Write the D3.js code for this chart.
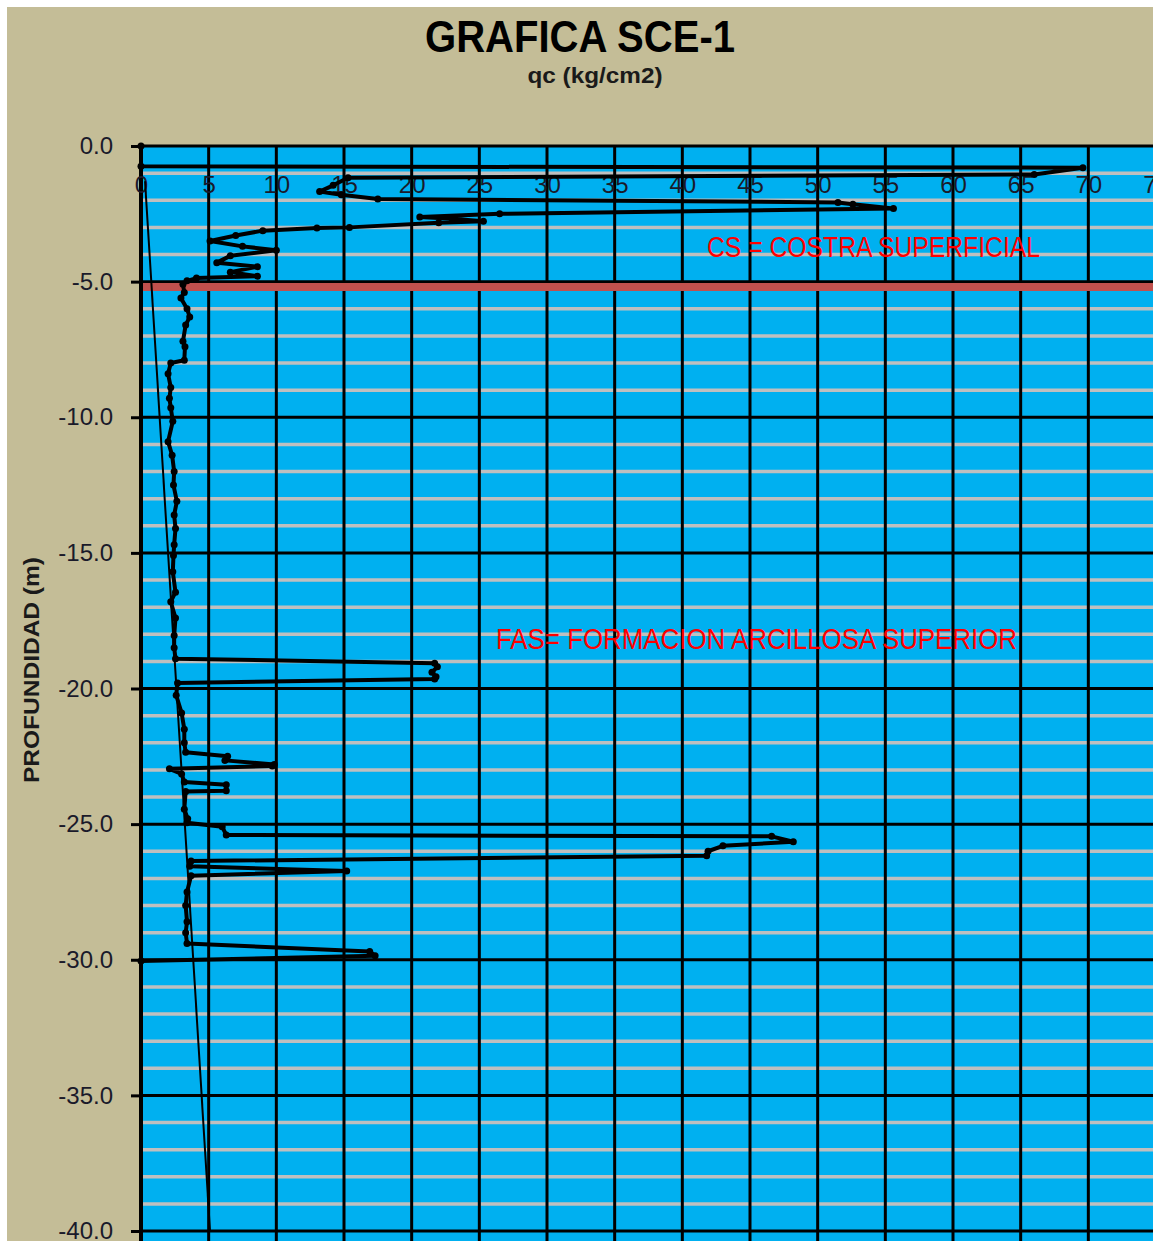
<!DOCTYPE html>
<html>
<head>
<meta charset="utf-8">
<script src="https://cdn.jsdelivr.net/npm/d3@7"></script>
<style>
  body { margin: 0; background: #ffffff; }
  svg { display: block; }
</style>
</head>
<body>
<div id="chart"></div>
<script>
// qc (kg/cm2) read along the sounding, paired with depth (m)
const qc = [
  0, 0, 69.6, 66, 15.3, 14.2, 13.2, 14.8, 17.5, 51.5, 52.6, 55.6, 26.5, 20.6, 23.0, 25.3,
  22.0, 15.4, 13.0, 9.0, 7.0, 5.1, 7.5, 10.0, 6.6, 5.6, 8.6, 6.6, 8.6, 4.1, 3.4,
  3.1, 3.2, 2.95, 3.4, 3.6, 3.3, 3.1, 3.25, 3.2, 2.2, 2.0, 2.2, 2.1, 2.2, 2.35, 2.0,
  2.3, 2.45, 2.4, 2.65, 2.45, 2.55, 2.45, 2.4, 2.35, 2.55, 2.2, 2.55, 2.45, 2.45, 2.55,
  21.7, 21.9, 21.5, 21.8, 21.7, 2.7, 2.6, 3.0, 3.2, 3.2, 3.3, 6.4, 6.2, 9.85, 9.7,
  2.1, 3.0, 3.2, 6.3, 6.3, 3.3, 3.2, 3.45, 3.4, 6.0, 6.3, 46.6, 48.2, 43, 41.9, 41.8,
  3.7, 3.6, 15.2, 3.7, 3.4, 3.3, 3.4, 3.3, 3.4, 16.9, 17.3, 0
];
const depth = [
  0, -0.75, -0.8, -1.05, -1.17, -1.45, -1.68, -1.8, -1.95, -2.08, -2.15, -2.3, -2.5, -2.62, -2.68, -2.77,
  -2.83, -3.0, -3.02, -3.12, -3.3, -3.5, -3.7, -3.84, -4.05, -4.3, -4.45, -4.65, -4.8, -4.87, -4.97,
  -5.1, -5.4, -5.6, -6.0, -6.3, -6.6, -7.2, -7.4, -7.9, -8.0, -8.4, -8.9, -9.3, -9.65, -10.15, -10.9,
  -11.4, -12.0, -12.5, -13.1, -13.6, -14.1, -14.7, -15.1, -15.7, -16.45, -16.8, -17.4, -18.05, -18.5, -18.9,
  -19.07, -19.2, -19.4, -19.57, -19.65, -19.8, -20.25, -20.9, -21.5, -22.0, -22.35, -22.5, -22.65, -22.8, -22.86,
  -22.96, -23.15, -23.45, -23.55, -23.77, -23.8, -24.45, -24.8, -24.95, -25.1, -25.4, -25.45, -25.65, -25.8, -26.0, -26.17,
  -26.36, -26.55, -26.73, -26.9, -27.5, -28.0, -28.6, -29.0, -29.4, -29.7, -29.85, -30.05
];

// thin straight reference line
const refQc = [0.3, 5.1];
const refDepth = [-1.3, -40];

// layer boundary (red band)
const boundaryDepth = [-5.2];

const xTicks = d3.range(0, 80, 5);
const yTicks = d3.range(0, -45, -5);
const minorDepths = d3.range(-1, -41, -1).filter(d => d % 5 !== 0);

const width = 1153, height = 1241;
const font = "'Liberation Sans', Arial, sans-serif";

const svg = d3.select("#chart")
  .append("svg")
  .attr("width", width)
  .attr("height", height);

// chart area background
svg.append("rect")
  .attr("x", 7).attr("y", 7)
  .attr("width", width - 7).attr("height", height - 7)
  .attr("fill", "#c4bd97");

const x = d3.scaleLinear().domain([0, 75]).range([141, 1156]);
const y = d3.scaleLinear().domain([0, -40]).range([146, 1231]);

// plot area
svg.append("rect")
  .attr("x", x(0)).attr("y", y(0) - 1)
  .attr("width", width - x(0) + 10).attr("height", height - y(0) + 10)
  .attr("fill", "#00b0f0");

// minor horizontal gridlines
svg.append("g")
  .selectAll("line")
  .data(minorDepths)
  .join("line")
  .attr("x1", x(0) + 2).attr("x2", width + 5)
  .attr("y1", d => y(d)).attr("y2", d => y(d))
  .attr("stroke", "#bfbfbf")
  .attr("stroke-width", 3.5);

// major vertical gridlines
svg.append("g")
  .selectAll("line")
  .data(xTicks.filter(d => d > 0))
  .join("line")
  .attr("x1", d => x(d)).attr("x2", d => x(d))
  .attr("y1", y(0)).attr("y2", height + 5)
  .attr("stroke", "#000")
  .attr("stroke-width", 3);

// major horizontal gridlines
svg.append("g")
  .selectAll("line")
  .data(yTicks)
  .join("line")
  .attr("x1", x(0)).attr("x2", width + 5)
  .attr("y1", d => y(d)).attr("y2", d => y(d))
  .attr("stroke", "#000")
  .attr("stroke-width", 3);

// boundary band
svg.append("g")
  .selectAll("line")
  .data(boundaryDepth)
  .join("line")
  .attr("x1", x(0)).attr("x2", width + 5)
  .attr("y1", d => y(d)).attr("y2", d => y(d))
  .attr("stroke", "#c0504d")
  .attr("stroke-width", 8);

// y axis
const yAxis = svg.append("g")
  .attr("transform", `translate(${x(0)},0)`)
  .call(d3.axisLeft(y)
    .tickValues(yTicks)
    .tickFormat(d => d.toFixed(1))
    .tickSize(10)
    .tickPadding(18));
yAxis.select(".domain").remove();
yAxis.append("line")
  .attr("x1", 0).attr("x2", 0)
  .attr("y1", y(0) - 1).attr("y2", height + 5)
  .attr("stroke", "#000")
  .attr("stroke-width", 4);
yAxis.selectAll(".tick line").attr("stroke", "#000").attr("stroke-width", 3);
yAxis.selectAll(".tick text")
  .attr("fill", "#1a1a2a")
  .style("font-family", font)
  .style("font-size", "24px");

// x tick labels (inside plot, below the top line)
const xAxis = svg.append("g")
  .attr("transform", "translate(0,170)")
  .call(d3.axisBottom(x)
    .tickValues(xTicks)
    .tickSize(0)
    .tickPadding(6));
xAxis.select(".domain").remove();
xAxis.selectAll(".tick text")
  .attr("fill", "#1a1a2a")
  .style("font-family", font)
  .style("font-size", "24px");

// reference line
const refPts = refQc.map((v, i) => [v, refDepth[i]]);
svg.append("path")
  .datum(refPts)
  .attr("fill", "none")
  .attr("stroke", "#000")
  .attr("stroke-width", 2)
  .attr("d", d3.line().x(d => x(d[0])).y(d => y(d[1])));

// qc profile
const pts = qc.map((v, i) => [v, depth[i]]);
svg.append("path")
  .datum(pts)
  .attr("fill", "none")
  .attr("stroke", "#000")
  .attr("stroke-width", 4)
  .attr("stroke-linejoin", "round")
  .attr("d", d3.line().x(d => x(d[0])).y(d => y(d[1])));

svg.append("g")
  .selectAll("circle")
  .data(pts)
  .join("circle")
  .attr("cx", d => x(d[0]))
  .attr("cy", d => y(d[1]))
  .attr("r", 3.5)
  .attr("fill", "#000");

// titles
svg.append("text")
  .attr("x", 580).attr("y", 52)
  .attr("text-anchor", "middle")
  .attr("textLength", 310).attr("lengthAdjust", "spacingAndGlyphs")
  .style("font-family", font)
  .style("font-weight", "bold")
  .style("font-size", "44px")
  .attr("fill", "#000")
  .text("GRAFICA SCE-1");

svg.append("text")
  .attr("x", 595).attr("y", 83)
  .attr("text-anchor", "middle")
  .attr("textLength", 135).attr("lengthAdjust", "spacingAndGlyphs")
  .style("font-family", font)
  .style("font-weight", "bold")
  .style("font-size", "22px")
  .attr("fill", "#1a1a1a")
  .text("qc (kg/cm2)");

svg.append("text")
  .attr("transform", "translate(39,670) rotate(-90)")
  .attr("text-anchor", "middle")
  .attr("textLength", 226).attr("lengthAdjust", "spacingAndGlyphs")
  .style("font-family", font)
  .style("font-weight", "bold")
  .style("font-size", "22px")
  .attr("fill", "#1a1a1a")
  .text("PROFUNDIDAD (m)");

// layer annotations
svg.append("text")
  .attr("x", 707).attr("y", 257)
  .attr("textLength", 333).attr("lengthAdjust", "spacingAndGlyphs")
  .style("font-family", font)
  .style("font-size", "29px")
  .attr("fill", "#ff0000")
  .text("CS = COSTRA SUPERFICIAL");

svg.append("text")
  .attr("x", 496).attr("y", 649)
  .attr("textLength", 521).attr("lengthAdjust", "spacingAndGlyphs")
  .style("font-family", font)
  .style("font-size", "29px")
  .attr("fill", "#ff0000")
  .text("FAS= FORMACION ARCILLOSA SUPERIOR");
</script>
</body>
</html>
